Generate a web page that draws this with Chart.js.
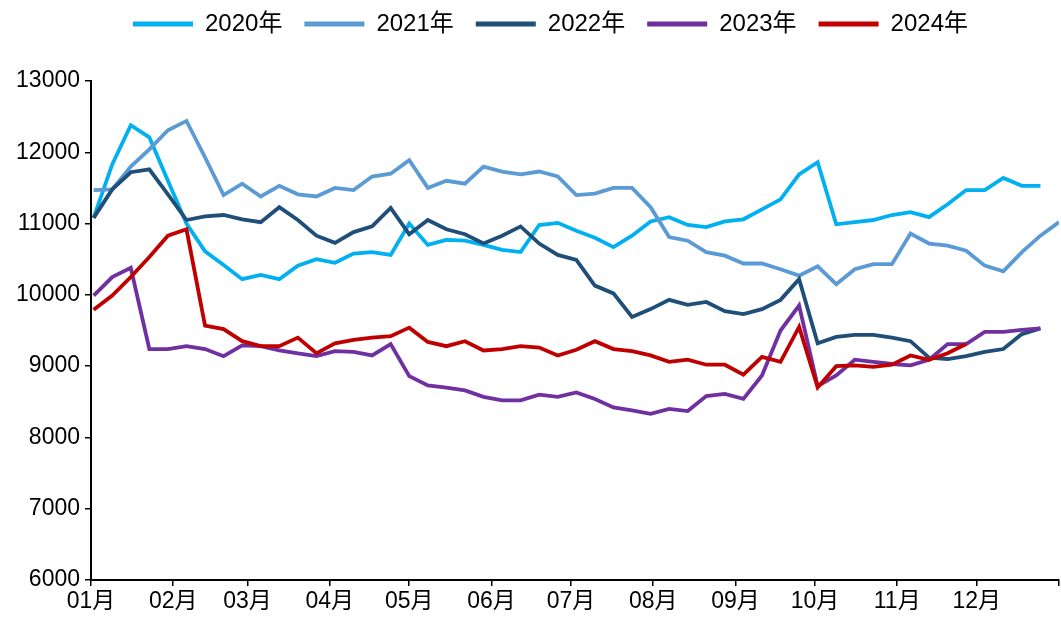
<!DOCTYPE html>
<html>
<head>
<meta charset="utf-8">
<script src="https://cdn.jsdelivr.net/npm/chart.js@4.4.1/dist/chart.umd.min.js"></script>
<style>
  html, body { margin: 0; padding: 0; background: #fff; }
  canvas { display: block; }
</style>
</head>
<body>
<canvas id="priceChart" width="1061" height="623"></canvas>
<script>
// week positions (day of year) and month ticks
const weekDays = [1, 8, 15, 22, 29, 36, 43, 50, 57, 64, 71, 78, 85, 92, 99, 106, 113, 120, 127, 134,
    141, 148, 155, 162, 169, 176, 183, 190, 197, 204, 211, 218, 225, 232, 239, 246, 253, 260, 267,
    274, 281, 288, 295, 302, 309, 316, 323, 330, 337, 344, 351, 358, 365];
const monthStarts = [0, 31, 59, 90, 120, 151, 181, 212, 243, 273, 304, 334, 365];
const monthLabels = ['01月', '02月', '03月', '04月', '05月', '06月', '07月', '08月', '09月', '10月', '11月', '12月', ''];

const yearNames = ['2020年', '2021年', '2022年', '2023年', '2024年'];
const yearColors = ['#00B0F0', '#5B9BD5', '#1F4E79', '#7030A0', '#C00000'];

const v2020 = [11080, 11830, 12380, 12210, 11600, 11000, 10610, 10420, 10220, 10280, 10220, 10410, 10500, 10450,
    10580, 10600, 10560, 11000, 10700, 10770, 10760, 10700, 10630, 10600, 10980, 11010, 10900,
    10800, 10670, 10830, 11030, 11090, 10980, 10950, 11030, 11060, 11200, 11340, 11690, 11860,
    10990, 11020, 11050, 11120, 11160, 11090, 11270, 11470, 11470, 11640, 11530, 11530];
const v2021 = [11470, 11480, 11800, 12040, 12310, 12440, 11930, 11400, 11560, 11380, 11530, 11410, 11380, 11500,
    11470, 11660, 11700, 11890, 11500, 11600, 11560, 11800, 11730, 11690, 11730, 11660, 11400,
    11420, 11500, 11500, 11230, 10810, 10760, 10600, 10550, 10440, 10440, 10360, 10270, 10400,
    10150, 10360, 10430, 10430, 10860, 10720, 10690, 10620, 10410, 10330, 10600, 10830, 11020];
const v2022 = [11080, 11480, 11720, 11760, 11410, 11050, 11100, 11120, 11060, 11020, 11230, 11050, 10830, 10730,
    10880, 10960, 11220, 10850, 11050, 10920, 10850, 10720, 10830, 10960, 10720, 10560, 10490,
    10130, 10020, 9690, 9800, 9930, 9860, 9900, 9770, 9730, 9800, 9930, 10220, 9320,
    9410, 9440, 9440, 9400, 9350, 9120, 9100, 9140, 9200, 9240, 9450, 9530];
const v2023 = [9990, 10250, 10380, 9240, 9240, 9280, 9240, 9140, 9290, 9280, 9220, 9180, 9140, 9210,
    9200, 9150, 9310, 8860, 8730, 8700, 8660, 8570, 8520, 8520, 8600, 8570, 8630,
    8540, 8420, 8380, 8330, 8400, 8370, 8580, 8610, 8540, 8870, 9500, 9850, 8720,
    8870, 9090, 9060, 9030, 9010, 9090, 9310, 9310, 9480, 9480, 9510, 9530];
const v2024 = [9790, 9990, 10250, 10530, 10830, 10920, 9570, 9520, 9350, 9280, 9280, 9400, 9180, 9320,
    9370, 9400, 9420, 9540, 9340, 9280, 9350, 9220, 9240, 9280, 9260, 9150, 9230,
    9350, 9240, 9210, 9150, 9060, 9090, 9020, 9020, 8880, 9130, 9060, 9550, 8700,
    9000, 9010, 8990, 9020, 9150, 9090, 9180, 9310];

const yTicks = [6000, 7000, 8000, 9000, 10000, 11000, 12000, 13000];

const FONT = "'Liberation Sans', Arial, 'Noto Sans CJK SC', sans-serif";

function toPoints(values) {
    return values.map((v, i) => ({ x: weekDays[i], y: v }));
}

// legend: fixed height so the plot starts at the 13000 line, row nudged right
const legendBox = {
    id: 'legendBox',
    afterInit(chart) {
        const legend = chart.legend;
        const fit = legend.fit;
        legend.fit = function () {
            fit.call(this);
            this.height = 91;
        };
    },
    afterLayout(chart) {
        chart.legend.left += 40;
    }
};

const series = [v2020, v2021, v2022, v2023, v2024];

new Chart(document.getElementById('priceChart'), {
    type: 'line',
    data: {
        datasets: series.map((values, i) => ({
            label: yearNames[i],
            data: toPoints(values),
            borderColor: yearColors[i],
            backgroundColor: yearColors[i],
            borderWidth: 3.8,
            pointRadius: 0,
            tension: 0,
            order: series.length - i
        }))
    },
    options: {
        responsive: false,
        animation: false,
        layout: {
            padding: { top: -10, left: 0, right: 0, bottom: 0 }
        },
        plugins: {
            legend: {
                position: 'top',
                labels: {
                    boxWidth: 60,
                    boxHeight: 5,
                    padding: 22,
                    color: '#000',
                    font: { family: FONT, size: 24 },
                    sort: (a, b) => a.datasetIndex - b.datasetIndex,
                    generateLabels: (chart) => chart.data.datasets.map((ds, i) => ({
                        text: ds.label,
                        fillStyle: ds.borderColor,
                        strokeStyle: ds.borderColor,
                        lineWidth: 0,
                        datasetIndex: i
                    }))
                }
            },
            tooltip: { enabled: false }
        },
        scales: {
            x: {
                type: 'linear',
                min: 0,
                max: 365,
                afterBuildTicks: (scale) => {
                    scale.ticks = monthStarts.map(v => ({ value: v }));
                },
                afterFit: (scale) => { scale.height = 43; },
                ticks: {
                    autoSkip: false,
                    maxRotation: 0,
                    padding: 2,
                    color: '#000',
                    font: { family: FONT, size: 23 },
                    callback: (value, index) => monthLabels[index]
                },
                grid: {
                    drawOnChartArea: false,
                    drawTicks: true,
                    tickLength: 6,
                    color: '#000',
                    lineWidth: 1.5
                },
                border: { color: '#000', width: 2 }
            },
            y: {
                min: 6000,
                max: 13000,
                afterBuildTicks: (scale) => {
                    scale.ticks = yTicks.map(v => ({ value: v }));
                },
                afterFit: (scale) => { scale.width = 91; },
                ticks: {
                    padding: 5,
                    color: '#000',
                    font: { family: FONT, size: 23 },
                    callback: (value) => String(value)
                },
                grid: {
                    drawOnChartArea: false,
                    drawTicks: true,
                    tickLength: 6,
                    color: '#000',
                    lineWidth: 1.5
                },
                border: { color: '#000', width: 2 }
            }
        }
    },
    plugins: [legendBox]
});
</script>
</body>
</html>
